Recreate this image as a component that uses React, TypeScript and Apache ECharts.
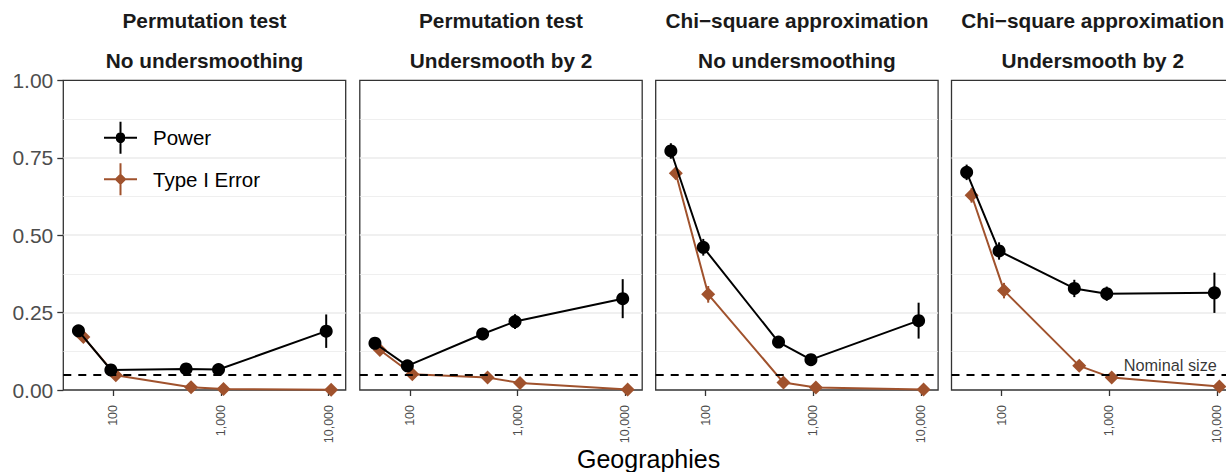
import React, { useEffect, useRef } from "react";
import * as echarts from "echarts";

// ---------------- data ----------------
const geographies = [50, 100, 500, 1000, 10000];
const xTickValues = [100, 1000, 10000];
const yTickValues = [0, 0.25, 0.5, 0.75, 1];
const nominalSize = 0.05;

const panelTests = ["Permutation test", "Permutation test", "Chi\u2212square approximation", "Chi\u2212square approximation"];
const panelSmoothing = ["No undersmoothing", "Undersmooth by 2", "No undersmoothing", "Undersmooth by 2"];

const powerPermNoUS = [0.191, 0.065, 0.068, 0.066, 0.19];
const powerPermUS2 = [0.151, 0.078, 0.181, 0.221, 0.295];
const powerChiNoUS = [0.772, 0.461, 0.155, 0.098, 0.224];
const powerChiUS2 = [0.703, 0.449, 0.328, 0.311, 0.314];

const powerErrPermNoUS = [0.016, 0.012, 0.013, 0.012, 0.054];
const powerErrPermUS2 = [0.016, 0.013, 0.02, 0.024, 0.063];
const powerErrChiNoUS = [0.025, 0.027, 0.018, 0.015, 0.058];
const powerErrChiUS2 = [0.025, 0.028, 0.028, 0.023, 0.065];

const typeIPermNoUS = [0.171, 0.048, 0.009, 0.003, 0.001];
const typeIPermUS2 = [0.129, 0.051, 0.04, 0.023, 0.002];
const typeIChiNoUS = [0.7, 0.309, 0.024, 0.008, 0.002];
const typeIChiUS2 = [0.629, 0.321, 0.078, 0.04, 0.011];

const typeIErrPermNoUS = [0.015, 0.01, 0.004, 0.002, 0.001];
const typeIErrPermUS2 = [0.014, 0.011, 0.01, 0.008, 0.002];
const typeIErrChiNoUS = [0.02, 0.027, 0.008, 0.004, 0.002];
const typeIErrChiUS2 = [0.024, 0.025, 0.012, 0.01, 0.005];

const powerByPanel = [powerPermNoUS, powerPermUS2, powerChiNoUS, powerChiUS2];
const powerErrByPanel = [powerErrPermNoUS, powerErrPermUS2, powerErrChiNoUS, powerErrChiUS2];
const typeIByPanel = [typeIPermNoUS, typeIPermUS2, typeIChiNoUS, typeIChiUS2];
const typeIErrByPanel = [typeIErrPermNoUS, typeIErrPermUS2, typeIErrChiNoUS, typeIErrChiUS2];

// ---------------- style / layout ----------------
const FONT = "'Liberation Sans', Arial, Helvetica, sans-serif";
const SIENNA = "#A0522D";
const PANEL_LEFTS = [63.3, 359.8, 655.7, 951.5];
const PANEL_W = 282.4;
const PANEL_TOP = 80.4;
const PANEL_H = 309.6;
const X_MIN = 34.3;
const X_MAX = 14390;
const DODGE = Math.pow(10, 0.023); // horizontal dodge in log space

const powerIcon =
  "path://M0,15 L33,15 L33,17 L0,17 Z M15.5,0 L17.5,0 L17.5,32 L15.5,32 Z M12,16 A4.6,4.6 0 1 1 21,16 A4.6,4.6 0 1 1 12,16 Z";
const typeIIcon =
  "path://M0,15 L33,15 L33,17 L0,17 Z M15.5,0 L17.5,0 L17.5,32 L15.5,32 Z M16.5,10 L22.5,16 L16.5,22 L10.5,16 Z";

function errorBarSeries(name: string, panel: number, vals: number[], errs: number[], factor: number, color: string, z: number) {
  return {
    type: "custom",
    name,
    xAxisIndex: panel,
    yAxisIndex: panel,
    z,
    silent: true,
    data: geographies.map((g, k) => [g * factor, vals[k] - errs[k], vals[k] + errs[k]]),
    encode: { x: 0, y: [1, 2] },
    renderItem: (params: any, api: any) => {
      const x = api.value(0);
      const p1 = api.coord([x, api.value(1)]);
      const p2 = api.coord([x, api.value(2)]);
      return {
        type: "line",
        shape: { x1: p1[0], y1: p1[1], x2: p2[0], y2: p2[1] },
        style: { stroke: color, lineWidth: 2 },
      };
    },
  };
}

function buildOption() {
  const grid = PANEL_LEFTS.map((left) => ({
    left,
    top: PANEL_TOP,
    width: PANEL_W,
    height: PANEL_H,
    show: true,
    backgroundColor: "#ffffff",
    borderColor: "#333333",
    borderWidth: 1.3,
    containLabel: false,
    outerBoundsMode: "none",
  }));

  const xAxis = PANEL_LEFTS.map((_, i) => ({
    type: "log",
    logBase: 10,
    gridIndex: i,
    min: X_MIN,
    max: X_MAX,
    axisLine: { show: false },
    splitLine: { show: false },
    minorSplitLine: { show: false },
    axisTick: { show: true, customValues: xTickValues, length: 6, lineStyle: { color: "#333333", width: 1.3 } },
    axisLabel: {
      show: true,
      customValues: xTickValues,
      rotate: 90,
      margin: 15,
      fontSize: 12.5,
      fontFamily: FONT,
      color: "#4D4D4D",
      formatter: (v: number) => Math.round(v).toLocaleString("en-US"),
    },
  }));

  const yAxis = PANEL_LEFTS.map((_, i) => ({
    type: "value",
    gridIndex: i,
    min: yTickValues[0],
    max: yTickValues[yTickValues.length - 1],
    interval: 0.25,
    axisLine: { show: false },
    axisTick: { show: i === 0, length: 6, lineStyle: { color: "#333333", width: 1.3 } },
    axisLabel: {
      show: i === 0,
      margin: 10,
      fontSize: 21,
      fontFamily: FONT,
      color: "#4D4D4D",
      formatter: (v: number) => v.toFixed(2),
    },
    splitLine: { show: true, showMinLine: false, showMaxLine: false, lineStyle: { color: "#EBEBEB", width: 1.6 } },
    minorTick: { show: false, splitNumber: 2 },
    minorSplitLine: { show: true, lineStyle: { color: "#EBEBEB", width: 0.8 } },
  }));

  const series: any[] = [];
  PANEL_LEFTS.forEach((_, i) => {
    series.push({
      type: "line",
      name: "nominal",
      xAxisIndex: i,
      yAxisIndex: i,
      data: [],
      z: 1,
      markLine: {
        silent: true,
        symbol: ["none", "none"],
        label: { show: false },
        lineStyle: { color: "#000000", width: 2, type: [8, 7] },
        data: [{ yAxis: nominalSize }],
      },
    });
    series.push({
      type: "line",
      name: "Type I Error",
      xAxisIndex: i,
      yAxisIndex: i,
      z: 2,
      symbol: "diamond",
      symbolSize: 14,
      showSymbol: true,
      showAllSymbol: true,
      itemStyle: { color: SIENNA, borderWidth: 0 },
      lineStyle: { color: SIENNA, width: 2 },
      data: geographies.map((g, k) => [g * DODGE, typeIByPanel[i][k]]),
    });
    series.push(errorBarSeries("Type I Error", i, typeIByPanel[i], typeIErrByPanel[i], DODGE, SIENNA, 2));
    series.push({
      type: "line",
      name: "Power",
      xAxisIndex: i,
      yAxisIndex: i,
      z: 3,
      symbol: "circle",
      symbolSize: 13,
      showSymbol: true,
      showAllSymbol: true,
      itemStyle: { color: "#000000", borderWidth: 0 },
      lineStyle: { color: "#000000", width: 2 },
      data: geographies.map((g, k) => [g / DODGE, powerByPanel[i][k]]),
    });
    series.push(errorBarSeries("Power", i, powerByPanel[i], powerErrByPanel[i], 1 / DODGE, "#000000", 3));
  });

  // "Nominal size" annotation in last panel
  series.push({
    type: "scatter",
    name: "nominalLabel",
    xAxisIndex: 3,
    yAxisIndex: 3,
    symbolSize: 0,
    silent: true,
    z: 4,
    data: [[xTickValues[xTickValues.length - 1], nominalSize]],
    label: {
      show: true,
      formatter: "Nominal size",
      position: [0, 0],
      align: "right",
      verticalAlign: "bottom",
      offset: [0, -2],
      fontSize: 16.3,
      fontFamily: FONT,
      color: "#000000",
    },
  });

  const graphic: any[] = [];
  PANEL_LEFTS.forEach((left, i) => {
    const cx = left + PANEL_W / 2;
    graphic.push({
      type: "text",
      x: cx,
      y: 20.5,
      silent: true,
      style: { text: panelTests[i], fontSize: 20.8, fontWeight: "bold", fontFamily: FONT, fill: "#1A1A1A", align: "center", verticalAlign: "middle" },
    });
    graphic.push({
      type: "text",
      x: cx,
      y: 60.5,
      silent: true,
      style: { text: panelSmoothing[i], fontSize: 20.8, fontWeight: "bold", fontFamily: FONT, fill: "#1A1A1A", align: "center", verticalAlign: "middle" },
    });
  });
  graphic.push({
    type: "text",
    x: (PANEL_LEFTS[0] + PANEL_LEFTS[3] + PANEL_W) / 2,
    y: 459,
    silent: true,
    style: { text: "Geographies", fontSize: 25, fontFamily: FONT, fill: "#000000", align: "center", verticalAlign: "middle" },
  });

  return {
    animation: false,
    backgroundColor: "#ffffff",
    grid,
    xAxis,
    yAxis,
    series,
    graphic,
    legend: {
      orient: "vertical",
      left: 104,
      top: 121.7,
      padding: 0,
      itemWidth: 33,
      itemHeight: 32,
      itemGap: 9.6,
      selectedMode: false,
      textStyle: { fontSize: 20.5, fontFamily: FONT, color: "#000000", padding: [0, 0, 0, 11] },
      data: [
        { name: "Power", icon: powerIcon, itemStyle: { color: "#000000", borderWidth: 0 } },
        { name: "Type I Error", icon: typeIIcon, itemStyle: { color: SIENNA, borderWidth: 0 } },
      ],
    },
  };
}

export default function App() {
  const ref = useRef<HTMLDivElement>(null);
  useEffect(() => {
    if (!ref.current) return;
    const chart = echarts.init(ref.current, undefined, { renderer: "svg" });
    chart.setOption(buildOption() as any);
    return () => chart.dispose();
  }, []);
  return (
    <div
      ref={ref}
      style={{ position: "absolute", left: 0, top: 0, width: 1226, height: 472, background: "#ffffff" }}
    />
  );
}
